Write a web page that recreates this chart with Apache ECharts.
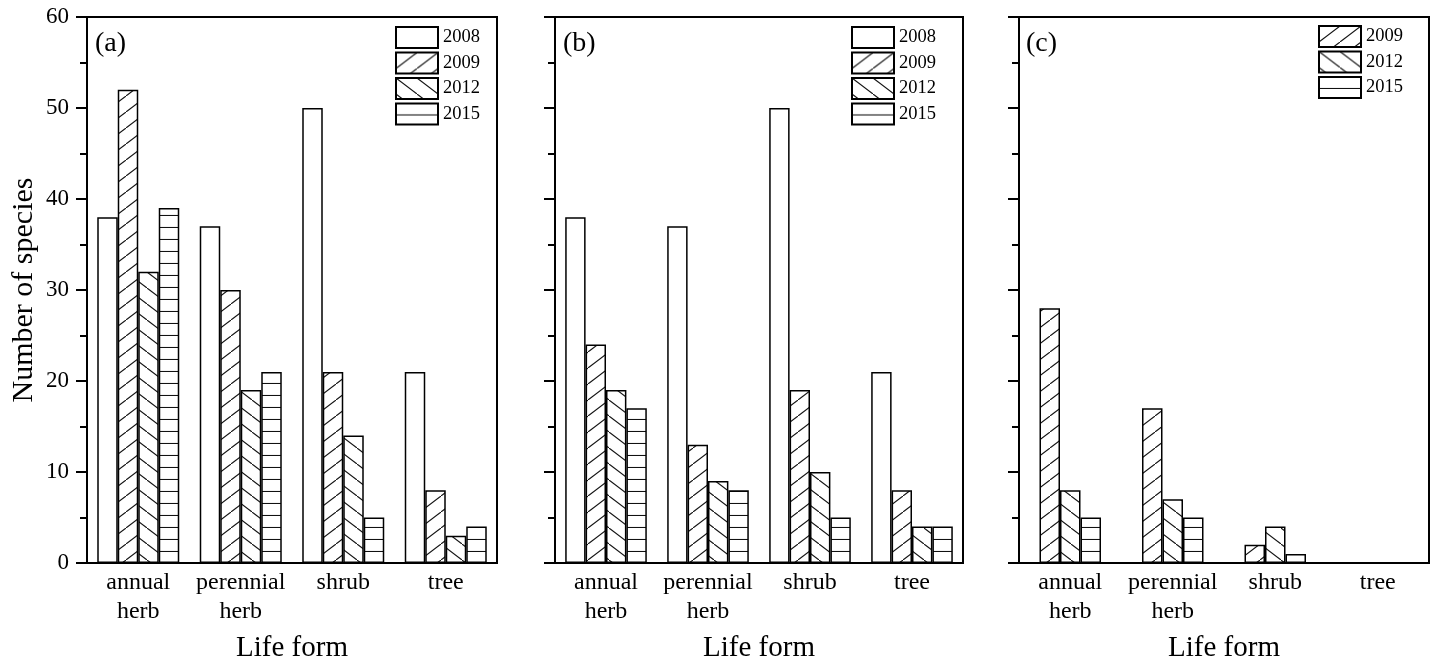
<!DOCTYPE html>
<html>
<head>
<meta charset="utf-8">
<script src="https://cdn.jsdelivr.net/npm/echarts@6/dist/echarts.min.js"></script>
<style>
html,body{margin:0;padding:0;background:#fff;}
#chart{width:1434px;height:659px;}
</style>
</head>
<body>
<div id="chart"></div>
<script>
// ---- data ----
const categories = ['annual\nherb', 'perennial\nherb', 'shrub', 'tree'];
const yTicks = [0, 10, 20, 30, 40, 50, 60];
const yearsAB = ['2008', '2009', '2012', '2015'];
const yearsC = ['2009', '2012', '2015'];
const panelLabels = ['(a)', '(b)', '(c)'];
const xAxisTitle = 'Life form';
const yAxisTitle = 'Number of species';

// panel (a)
const a2008 = [38, 37, 50, 21];
const a2009 = [52, 30, 21, 8];
const a2012 = [32, 19, 14, 3];
const a2015 = [39, 21, 5, 4];
// panel (b)
const b2008 = [38, 37, 50, 21];
const b2009 = [24, 13, 19, 8];
const b2012 = [19, 9, 10, 4];
const b2015 = [17, 8, 5, 4];
// panel (c)
const c2009 = [28, 17, 2, 0];
const c2012 = [8, 7, 4, 0];
const c2015 = [5, 5, 1, 0];

// ---- patterns ----
function makePattern(kind) {
  const c = document.createElement('canvas');
  let w, h;
  if (kind === 'h') { w = 10; h = 12; } else { w = 21; h = 16; }
  c.width = w; c.height = h;
  const g = c.getContext('2d');
  g.fillStyle = '#fff';
  g.fillRect(0, 0, w, h);
  g.strokeStyle = '#111';
  g.lineWidth = 1.1;
  g.beginPath();
  if (kind === 'f') {
    g.moveTo(-2, h + 2 * h / w); g.lineTo(w + 2, -2 * h / w);
  } else if (kind === 'b') {
    g.moveTo(-2, -2 * h / w); g.lineTo(w + 2, h + 2 * h / w);
  } else if (kind === 'h') {
    g.moveTo(0, h - 0.5); g.lineTo(w, h - 0.5);
  }
  g.stroke();
  return { image: c, repeat: 'repeat' };
}
const fillOf = {
  '2008': '#ffffff',
  '2009': makePattern('f'),
  '2012': makePattern('b'),
  '2015': makePattern('h')
};

const FONT = "'Liberation Serif','Times New Roman',serif";

const grids = [
  { left: 87, top: 17, width: 410, height: 546 },
  { left: 555, top: 17, width: 408, height: 546 },
  { left: 1019, top: 17, width: 410, height: 546 }
];

const xAxes = grids.map((g, i) => ({
  type: 'category',
  gridIndex: i,
  data: categories,
  boundaryGap: true,
  axisLine: { lineStyle: { color: '#000', width: 2 } },
  axisTick: { alignWithLabel: true, length: 7, lineStyle: { color: '#000', width: 2 } },
  axisLabel: { color: '#000', fontFamily: FONT, fontSize: 24, lineHeight: 29, margin: 5, interval: 0 },
  name: xAxisTitle,
  nameLocation: 'middle',
  nameGap: 71,
  nameTextStyle: { color: '#000', fontFamily: FONT, fontSize: 29 }
}));

const yAxes = grids.map((g, i) => ({
  type: 'value',
  gridIndex: i,
  min: yTicks[0],
  max: yTicks[yTicks.length - 1],
  interval: 10,
  splitLine: { show: false },
  axisLine: { show: true, lineStyle: { color: '#000', width: 2 } },
  axisTick: { show: true, length: 11, lineStyle: { color: '#000', width: 2 } },
  minorTick: { show: true, splitNumber: 2, length: 7, lineStyle: { color: '#000', width: 2 } },
  axisLabel: { show: i === 0, color: '#000', fontFamily: FONT, fontSize: 23, margin: 18 },
  name: i === 0 ? yAxisTitle : '',
  nameLocation: 'middle',
  nameGap: 48,
  nameTextStyle: { color: '#000', fontFamily: FONT, fontSize: 30 }
}));

function barSeries(name, data, idx) {
  return {
    type: 'bar',
    name: name,
    data: data,
    xAxisIndex: idx,
    yAxisIndex: idx,
    barWidth: '20%',
    barGap: '0%',
    itemStyle: { color: fillOf[name], borderColor: '#000', borderWidth: 1.5 },
    emphasis: { disabled: true },
    silent: true
  };
}

const series = [
  barSeries('2008', a2008, 0), barSeries('2009', a2009, 0), barSeries('2012', a2012, 0), barSeries('2015', a2015, 0),
  barSeries('2008', b2008, 1), barSeries('2009', b2009, 1), barSeries('2012', b2012, 1), barSeries('2015', b2015, 1),
  barSeries('2009', c2009, 2), barSeries('2012', c2012, 2), barSeries('2015', c2015, 2)
];

function legendAt(left, top, names) {
  return {
    left: left, top: top, orient: 'vertical', padding: 0,
    itemWidth: 42, itemHeight: 21, itemGap: 2.5,
    icon: 'rect', selectedMode: false,
    data: names,
    textStyle: { color: '#000', fontFamily: FONT, fontSize: 18.5 }
  };
}

const option = {
  animation: false,
  backgroundColor: '#fff',
  grid: grids.map(g => Object.assign({
    show: true, borderColor: '#000', borderWidth: 2, backgroundColor: 'transparent',
    containLabel: false, outerBoundsMode: 'none'
  }, g)),
  xAxis: xAxes,
  yAxis: yAxes,
  legend: [
    legendAt(395, 26, yearsAB),
    legendAt(851, 26, yearsAB),
    legendAt(1318, 25, yearsC)
  ],
  graphic: panelLabels.map((t, i) => ({
    type: 'text',
    left: [95, 563, 1026][i],
    top: 30,
    style: { text: t, fill: '#000', font: '28px ' + FONT }
  })),
  series: series
};

const chart = echarts.init(document.getElementById('chart'), null, { renderer: 'canvas' });
chart.setOption(option);
</script>
</body>
</html>
